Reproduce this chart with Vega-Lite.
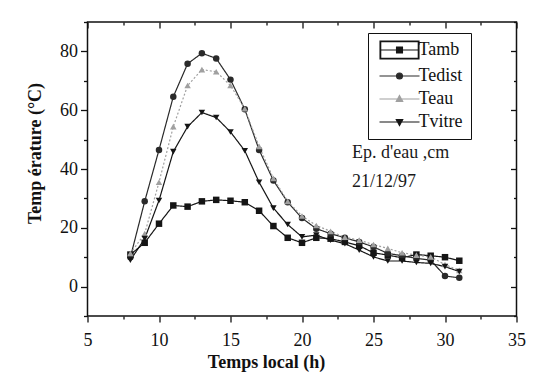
{
  "$schema": "https://vega.github.io/schema/vega-lite/v6.json",
  "width": 429,
  "height": 294,
  "autosize": {"type": "none"},
  "padding": {"left": 87.5, "top": 22, "right": 17.5, "bottom": 62},
  "background": "white",
  "config": {
    "view": {"stroke": "#111", "strokeWidth": 1.5},
    "font": "Liberation Serif",
    "axis": {"domain": false, "grid": false, "tickColor": "#111", "tickWidth": 1.3, "labelColor": "#111", "titleColor": "#111"}
  },
  "datasets": {
    "temps": [
      {"h": 8, "s": "Tamb", "t": 10.9}, {"h": 9, "s": "Tamb", "t": 14.9}, {"h": 10, "s": "Tamb", "t": 21.4}, {"h": 11, "s": "Tamb", "t": 27.6},
      {"h": 12, "s": "Tamb", "t": 27.2}, {"h": 13, "s": "Tamb", "t": 29.0}, {"h": 14, "s": "Tamb", "t": 29.5}, {"h": 15, "s": "Tamb", "t": 29.2},
      {"h": 16, "s": "Tamb", "t": 28.7}, {"h": 17, "s": "Tamb", "t": 25.8}, {"h": 18, "s": "Tamb", "t": 20.6}, {"h": 19, "s": "Tamb", "t": 16.6},
      {"h": 20, "s": "Tamb", "t": 14.9}, {"h": 21, "s": "Tamb", "t": 16.6}, {"h": 22, "s": "Tamb", "t": 16.3}, {"h": 23, "s": "Tamb", "t": 15.2},
      {"h": 24, "s": "Tamb", "t": 13.9}, {"h": 25, "s": "Tamb", "t": 11.5}, {"h": 26, "s": "Tamb", "t": 10.7}, {"h": 27, "s": "Tamb", "t": 9.8},
      {"h": 28, "s": "Tamb", "t": 10.9}, {"h": 29, "s": "Tamb", "t": 10.5}, {"h": 30, "s": "Tamb", "t": 10.0}, {"h": 31, "s": "Tamb", "t": 8.8},

      {"h": 8, "s": "Tedist", "t": 10.0}, {"h": 9, "s": "Tedist", "t": 29.0}, {"h": 10, "s": "Tedist", "t": 46.5}, {"h": 11, "s": "Tedist", "t": 64.6},
      {"h": 12, "s": "Tedist", "t": 75.8}, {"h": 13, "s": "Tedist", "t": 79.4}, {"h": 14, "s": "Tedist", "t": 77.6}, {"h": 15, "s": "Tedist", "t": 70.4},
      {"h": 16, "s": "Tedist", "t": 60.3}, {"h": 17, "s": "Tedist", "t": 46.5}, {"h": 18, "s": "Tedist", "t": 36.1}, {"h": 19, "s": "Tedist", "t": 28.7},
      {"h": 20, "s": "Tedist", "t": 23.3}, {"h": 21, "s": "Tedist", "t": 19.7}, {"h": 22, "s": "Tedist", "t": 18.0}, {"h": 23, "s": "Tedist", "t": 16.6},
      {"h": 24, "s": "Tedist", "t": 15.2}, {"h": 25, "s": "Tedist", "t": 13.5}, {"h": 26, "s": "Tedist", "t": 11.3}, {"h": 27, "s": "Tedist", "t": 10.5},
      {"h": 28, "s": "Tedist", "t": 9.6}, {"h": 29, "s": "Tedist", "t": 9.0}, {"h": 30, "s": "Tedist", "t": 3.6}, {"h": 31, "s": "Tedist", "t": 3.0},

      {"h": 8, "s": "Teau", "t": 11.3}, {"h": 9, "s": "Teau", "t": 18.0}, {"h": 10, "s": "Teau", "t": 35.5}, {"h": 11, "s": "Teau", "t": 54.4},
      {"h": 12, "s": "Teau", "t": 68.4}, {"h": 13, "s": "Teau", "t": 73.8}, {"h": 14, "s": "Teau", "t": 73.1}, {"h": 15, "s": "Teau", "t": 68.4},
      {"h": 16, "s": "Teau", "t": 60.5}, {"h": 17, "s": "Teau", "t": 47.7}, {"h": 18, "s": "Teau", "t": 36.8}, {"h": 19, "s": "Teau", "t": 29.0},
      {"h": 20, "s": "Teau", "t": 24.0}, {"h": 21, "s": "Teau", "t": 20.8}, {"h": 22, "s": "Teau", "t": 18.8}, {"h": 23, "s": "Teau", "t": 16.8},
      {"h": 24, "s": "Teau", "t": 15.8}, {"h": 25, "s": "Teau", "t": 14.3}, {"h": 26, "s": "Teau", "t": 13.0}, {"h": 27, "s": "Teau", "t": 11.5},
      {"h": 28, "s": "Teau", "t": 10.7}, {"h": 29, "s": "Teau", "t": 10.1}, {"h": 30, "s": "Teau", "t": 7.5}, {"h": 31, "s": "Teau", "t": 5.5},

      {"h": 8, "s": "Tvitre", "t": 9.0}, {"h": 9, "s": "Tvitre", "t": 16.3}, {"h": 10, "s": "Tvitre", "t": 29.3}, {"h": 11, "s": "Tvitre", "t": 45.9},
      {"h": 12, "s": "Tvitre", "t": 54.4}, {"h": 13, "s": "Tvitre", "t": 59.2}, {"h": 14, "s": "Tvitre", "t": 57.5}, {"h": 15, "s": "Tvitre", "t": 52.6},
      {"h": 16, "s": "Tvitre", "t": 46.2}, {"h": 17, "s": "Tvitre", "t": 35.5}, {"h": 18, "s": "Tvitre", "t": 26.7}, {"h": 19, "s": "Tvitre", "t": 21.1},
      {"h": 20, "s": "Tvitre", "t": 16.9}, {"h": 21, "s": "Tvitre", "t": 17.5}, {"h": 22, "s": "Tvitre", "t": 15.8}, {"h": 23, "s": "Tvitre", "t": 14.6},
      {"h": 24, "s": "Tvitre", "t": 12.4}, {"h": 25, "s": "Tvitre", "t": 10.1}, {"h": 26, "s": "Tvitre", "t": 8.7}, {"h": 27, "s": "Tvitre", "t": 8.7},
      {"h": 28, "s": "Tvitre", "t": 8.2}, {"h": 29, "s": "Tvitre", "t": 7.9}, {"h": 30, "s": "Tvitre", "t": 6.8}, {"h": 31, "s": "Tvitre", "t": 5.1}
    ]
  },
  "resolve": {"axis": {"x": "independent", "y": "independent"}},
  "layer": [
    {
      "data": {"name": "temps"},
      "mark": {"type": "line", "strokeWidth": 1.2},
      "encoding": {
        "x": {
          "field": "h", "type": "quantitative",
          "scale": {"domain": [5, 35], "nice": false, "zero": false},
          "axis": {
            "orient": "bottom",
            "values": [5, 7.5, 10, 12.5, 15, 17.5, 20, 22.5, 25, 27.5, 30, 32.5, 35],
            "labelExpr": "datum.value % 5 === 0 ? datum.label : ''",
            "tickSize": {"condition": {"test": "datum.value % 5 === 0", "value": 6}, "value": 3},
            "labelFont": "Liberation Serif", "labelFontSize": 18, "labelPadding": 9,
            "labelFlush": false, "labelOverlap": false,
            "title": "Temps local (h)", "titleFont": "Liberation Serif", "titleFontSize": 18, "titleFontWeight": "bold",
            "titleX": 178.5, "titlePadding": 4
          }
        },
        "y": {
          "field": "t", "type": "quantitative",
          "scale": {"domain": [-10, 90], "nice": false, "zero": false},
          "axis": {
            "orient": "left",
            "values": [-10, 0, 10, 20, 30, 40, 50, 60, 70, 80, 90],
            "labelExpr": "datum.value % 20 === 0 ? datum.label : ''",
            "tickSize": {"condition": {"test": "datum.value % 20 === 0", "value": 7}, "value": 4},
            "labelFont": "Liberation Serif", "labelFontSize": 18, "labelPadding": 3,
            "labelFlush": false, "labelOverlap": false,
            "title": "Temp érature (°C)", "titleFont": "Liberation Serif", "titleFontSize": 18, "titleFontWeight": "bold",
            "titleX": -43, "titleY": 131
          }
        },
        "color": {
          "field": "s", "type": "nominal",
          "scale": {"domain": ["Tamb", "Tedist", "Teau", "Tvitre"], "range": ["#151515", "#2a2a2a", "#a0a0a0", "#151515"]},
          "legend": {
            "orient": "none", "legendX": 280.5, "legendY": 11, "title": null,
            "strokeColor": "#111", "padding": 8,
            "symbolSize": 100, "symbolOffset": 14.5, "labelOffset": 10, "rowPadding": 5,
            "labelFont": "Liberation Serif", "labelFontSize": 18, "labelColor": "#111",
            "labelExpr": "datum.label + '\u00a0\u00a0\u00a0\u00a0\u00a0\u00a0\u00a0'",
            "encode": {
              "symbols": {
                "update": {
                  "shape": {"signal": "datum.value === 'Tamb' ? 'M-3.9,-1.8H3.9V1.8H-3.9ZM-3.75,-1.65V1.65H3.75V-1.65ZM-0.6,-0.6H0.6V0.6H-0.6ZM-4,0H4' : datum.value === 'Tedist' ? 'M-4,0H4M0.6,0A0.6,0.6,0,1,1,-0.6,0A0.6,0.6,0,1,1,0.6,0Z' : datum.value === 'Teau' ? 'M-4,0H4M0,-0.7L0.65,0.5L-0.65,0.5Z' : 'M-4,0H4M-0.65,-0.5L0.65,-0.5L0,0.7Z'"},
                  "strokeWidth": {"value": 1.1},
                  "opacity": {"value": 1}
                }
              }
            }
          }
        },
        "strokeDash": {
          "field": "s", "type": "nominal", "legend": null,
          "scale": {"range": [[1, 0], [2, 2], [1, 0], [1, 0]]}
        }
      }
    },
    {
      "data": {"name": "temps"},
      "mark": {"type": "point", "filled": true, "size": 42, "opacity": 1},
      "encoding": {
        "x": {
          "field": "h", "type": "quantitative",
          "axis": {
            "orient": "top",
            "values": [5, 7.5, 10, 12.5, 15, 17.5, 20, 22.5, 25, 27.5, 30, 32.5, 35],
            "labels": false, "title": null,
            "tickSize": {"condition": {"test": "datum.value % 5 === 0", "value": -6}, "value": -3}
          }
        },
        "y": {
          "field": "t", "type": "quantitative",
          "axis": {
            "orient": "right",
            "values": [-10, 0, 10, 20, 30, 40, 50, 60, 70, 80, 90],
            "labels": false, "title": null,
            "tickSize": {"condition": {"test": "datum.value % 20 === 0", "value": -6}, "value": -3}
          }
        },
        "color": {
          "field": "s", "type": "nominal",
          "legend": {
            "orient": "none", "legendX": 280.5, "legendY": 11, "title": null,
            "strokeColor": "#111", "padding": 8,
            "symbolSize": 100, "symbolOffset": 14.5, "labelOffset": 10, "rowPadding": 5,
            "labelFont": "Liberation Serif", "labelFontSize": 18, "labelColor": "#111",
            "labelExpr": "datum.label + '\u00a0\u00a0\u00a0\u00a0\u00a0\u00a0\u00a0'",
            "encode": {
              "symbols": {
                "update": {
                  "shape": {"signal": "datum.value === 'Tamb' ? 'M-3.9,-1.8H3.9V1.8H-3.9ZM-3.75,-1.65V1.65H3.75V-1.65ZM-0.6,-0.6H0.6V0.6H-0.6ZM-4,0H4' : datum.value === 'Tedist' ? 'M-4,0H4M0.6,0A0.6,0.6,0,1,1,-0.6,0A0.6,0.6,0,1,1,0.6,0Z' : datum.value === 'Teau' ? 'M-4,0H4M0,-0.7L0.65,0.5L-0.65,0.5Z' : 'M-4,0H4M-0.65,-0.5L0.65,-0.5L0,0.7Z'"},
                  "strokeWidth": {"value": 1.1},
                  "opacity": {"value": 1}
                }
              }
            }
          }
        },
        "shape": {
          "field": "s", "type": "nominal", "legend": null,
          "scale": {"range": ["square", "triangle-up", "circle", "triangle-down"]}
        }
      }
    },
    {
      "data": {"values": [{}]},
      "mark": {"type": "text", "text": "Ep. d'eau ,cm", "font": "Liberation Serif", "fontSize": 18, "align": "left", "baseline": "middle", "color": "#1a1a1a"},
      "encoding": {
        "x": {"datum": 23.5, "type": "quantitative", "axis": null},
        "y": {"datum": 45.3, "type": "quantitative", "axis": null}
      }
    },
    {
      "data": {"values": [{}]},
      "mark": {"type": "text", "text": "21/12/97", "font": "Liberation Serif", "fontSize": 18, "align": "left", "baseline": "middle", "color": "#1a1a1a"},
      "encoding": {
        "x": {"datum": 23.5, "type": "quantitative", "axis": null},
        "y": {"datum": 35.5, "type": "quantitative", "axis": null}
      }
    }
  ]
}
